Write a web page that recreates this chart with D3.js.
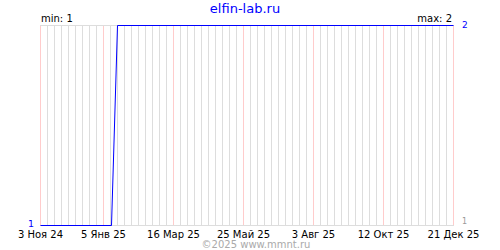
<!DOCTYPE html>
<html><head><meta charset="utf-8">
<script src="https://cdn.jsdelivr.net/npm/d3@7"></script>
<style>body{margin:0;background:#fff}svg{display:block}text{font-family:"DejaVu Sans",Verdana,sans-serif}</style>
</head><body><svg id="c" width="500" height="250"></svg>
<script>
const title = "elfin-lab.ru";
const footer = "©2025 www.mmnt.ru";
const pointDates = ["2024-11-03","2025-01-13","2025-01-19","2025-12-21"];
const pointValues = [1,1,2,2];
const tickDates = ["2024-11-03","2025-01-05","2025-03-16","2025-05-25","2025-08-03","2025-10-12","2025-12-21"];
const tickLabels = ["3 Ноя 24","5 Янв 25","16 Мар 25","25 Май 25","3 Авг 25","12 Окт 25","21 Дек 25"];
const minLabel = "min: 1", maxLabel = "max: 2";
const yMin = 1, yMax = 2;

const svg = d3.select("#c");
const x = d3.scaleUtc().domain([new Date(pointDates[0]), new Date(pointDates[pointDates.length-1])]).range([40.5, 453.5]);
const y = d3.scaleLinear().domain([yMin, yMax]).range([225.5, 25.5]);
const px = v => Math.round(v-0.5)+0.5;

// weekly grid
const weeks = d3.utcSunday.range(new Date(pointDates[0]), d3.utcDay.offset(new Date(pointDates[pointDates.length-1]),1));
svg.append("g").attr("shape-rendering","crispEdges").selectAll("line").data(weeks).join("line")
  .attr("x1", d=>px(x(d))).attr("x2", d=>px(x(d)))
  .attr("y1", 25).attr("y2", 225).attr("stroke", "#dddddd").attr("stroke-width",1);
// red grid at labels
svg.append("g").attr("shape-rendering","crispEdges").selectAll("line").data(tickDates).join("line")
  .attr("x1", d=>px(x(new Date(d)))).attr("x2", d=>px(x(new Date(d))))
  .attr("y1", 25).attr("y2", 225).attr("stroke", "#ffcccc").attr("stroke-width",1);
// top/bottom borders
svg.append("line").attr("shape-rendering","crispEdges").attr("x1",40).attr("x2",454).attr("y1",25.5).attr("y2",25.5).attr("stroke","#dddddd");
svg.append("line").attr("shape-rendering","crispEdges").attr("x1",40).attr("x2",454).attr("y1",225.5).attr("y2",225.5).attr("stroke","#dddddd");

// tick labels
svg.append("g").selectAll("text").data(tickDates).join("text")
  .attr("x", d=>x(new Date(d))).attr("y", 237.5).attr("text-anchor","middle")
  .attr("font-size", 10).attr("fill","#000").text((d,i)=>tickLabels[i]);

// data line
const pts = pointDates.map((d,i)=>({date:new Date(d), v:pointValues[i]}));
svg.append("path").datum(pts)
  .attr("d", d3.line().x(d=>x(d.date)).y(d=>y(d.v)))
  .attr("fill","none").attr("stroke","#0000ff").attr("stroke-width",1);

// title & labels
svg.append("text").attr("x",245).attr("y",13).attr("text-anchor","middle").attr("font-size",13).attr("fill","#0000ff").text(title);
svg.append("text").attr("x",41).attr("y",22).attr("font-size",10).attr("fill","#000").text(minLabel);
svg.append("text").attr("x",452).attr("y",22).attr("text-anchor","end").attr("font-size",10).attr("fill","#000").text(maxLabel);
svg.append("text").attr("x",462).attr("y",27.5).attr("font-size",9).attr("fill","#0000ff").text(yMax);
svg.append("text").attr("x",462).attr("y",224).attr("font-size",8).attr("fill","#999999").text(yMin);
svg.append("text").attr("x",28).attr("y",227).attr("font-size",9.5).attr("fill","#0000ff").text(yMin);
svg.append("text").attr("x",256).attr("y",248).attr("text-anchor","middle").attr("font-size",10).attr("fill","#aaaaaa").text(footer);
</script></body></html>
